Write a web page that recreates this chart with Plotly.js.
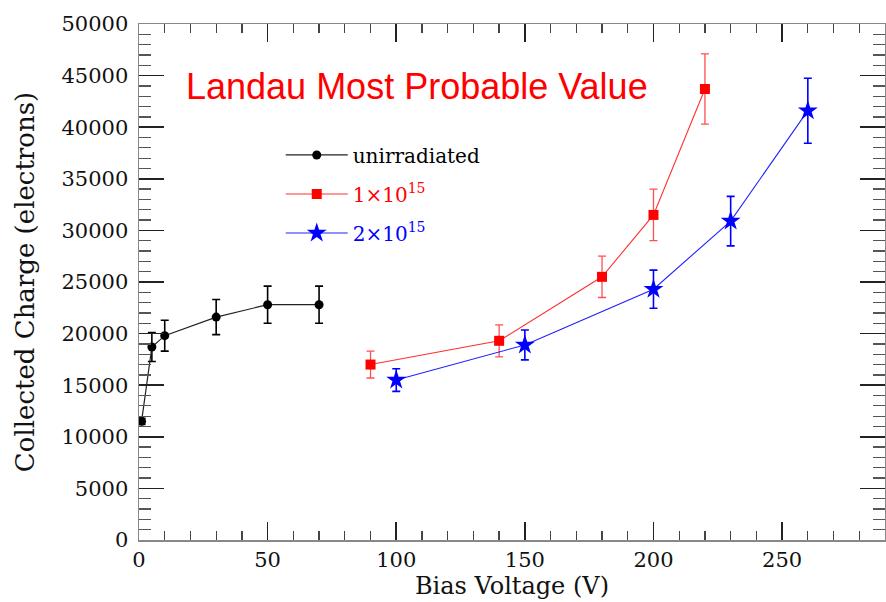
<!DOCTYPE html>
<html><head><meta charset="utf-8">
<script src="https://cdn.plot.ly/plotly-3.0.1.min.js"></script>
<style>html,body{margin:0;padding:0;background:#fff}#chart{width:886px;height:602px}</style>
</head><body><div id="chart"></div><script>
// Bias voltage (V) and collected charge (electrons)
const unirrV = [1, 5, 10, 30, 50, 70];
const unirrQ = [11500, 18700, 19800, 21600, 22800, 22800];
const unirrErr = [300, 1400, 1500, 1700, 1800, 1800];

const f1V = [90, 140, 180, 200, 220];
const f1Q = [17000, 19300, 25500, 31500, 43700];
const f1Err = [1300, 1550, 2000, 2500, 3400];

const f2V = [100, 150, 200, 230, 260];
const f2Q = [15500, 18900, 24300, 30900, 41600];
const f2Err = [1100, 1450, 1850, 2400, 3150];

const seriesNames = ['unirradiated', '1×10<sup>15</sup>', '2×10<sup>15</sup>'];
const chartTitle = 'Landau Most Probable Value';
const xTitle = 'Bias Voltage (V)';
const yTitle = 'Collected Charge (electrons)';

const serif = 'DejaVu Serif, Liberation Serif, serif';

const traces = [
  {x: unirrV, y: unirrQ, type: 'scatter', mode: 'lines+markers', legendgroup: 'a',
   name: '<span style="color:#000">' + seriesNames[0] + '</span>',
   line: {color: '#222', width: 1.2},
   marker: {symbol: 'circle', size: 9, color: '#000'},
   error_y: {type: 'data', array: unirrErr, visible: true, color: '#000', thickness: 1.6, width: 4}},
  {x: f1V, y: f1Q, type: 'scatter', mode: 'lines+markers', legendgroup: 'b',
   name: '<span style="color:#ff0000">' + seriesNames[1] + '</span>',
   line: {color: '#ff3030', width: 1.1},
   marker: {symbol: 'square', size: 10, color: '#ff0000'},
   error_y: {type: 'data', array: f1Err, visible: true, color: '#ff5050', thickness: 1.3, width: 4}},
  {x: f2V, y: f2Q, type: 'scatter', mode: 'lines+markers', legendgroup: 'c',
   name: '<span style="color:#0000ff">' + seriesNames[2] + '</span>',
   line: {color: '#2020ff', width: 1.1},
   marker: {symbol: 'star', size: 15, color: '#0000ff'},
   error_y: {type: 'data', array: f2Err, visible: true, color: '#0000ff', thickness: 1.6, width: 4}}
];

const layout = {
  width: 886, height: 602,
  paper_bgcolor: '#fff', plot_bgcolor: '#fff',
  margin: {l: 139, r: 1, t: 24, b: 62},
  showlegend: true,
  legend: {x: 0.19, y: 0.784, xanchor: 'left', yanchor: 'top', bgcolor: 'rgba(0,0,0,0)',
           traceorder: 'grouped', tracegroupgap: 10,
           font: {family: serif, size: 20, color: '#000'}, itemwidth: 62},
  xaxis: {
    range: [0, 290], showgrid: false, zeroline: false,
    showline: true, linecolor: '#888', linewidth: 1.5, mirror: 'ticks',
    ticks: 'inside', ticklen: 18, tickwidth: 1.5, tickcolor: '#222',
    tick0: 0, dtick: 50, tickformat: 'd',
    minor: {dtick: 10, ticks: 'inside', ticklen: 9, tickwidth: 1.3, tickcolor: '#444', showgrid: false},
    tickfont: {family: serif, size: 21, color: '#111'},
    title: {text: xTitle, font: {family: serif, size: 24, color: '#111'}, standoff: 4}
  },
  yaxis: {
    range: [0, 50000], showgrid: false, zeroline: false,
    showline: true, linecolor: '#888', linewidth: 1.5, mirror: 'ticks',
    ticks: 'inside', ticklen: 25, tickwidth: 1.5, tickcolor: '#222',
    tick0: 0, dtick: 5000, tickformat: 'd', separatethousands: false,
    minor: {dtick: 1000, ticks: 'inside', ticklen: 12, tickwidth: 1.3, tickcolor: '#555', showgrid: false},
    tickfont: {family: serif, size: 21, color: '#111'},
    ticklabelstandoff: 5,
    title: {text: yTitle, font: {family: serif, size: 26, color: '#111'}, standoff: 19}
  },
  annotations: [{
    text: chartTitle, xref: 'paper', yref: 'paper', x: 0.372, y: 0.878,
    xanchor: 'center', yanchor: 'middle', showarrow: false,
    font: {family: 'Liberation Sans, Arial, sans-serif', size: 36, color: '#ff0000'}
  }]
};

Plotly.newPlot('chart', traces, layout, {staticPlot: true, displayModeBar: false});
</script></body></html>
